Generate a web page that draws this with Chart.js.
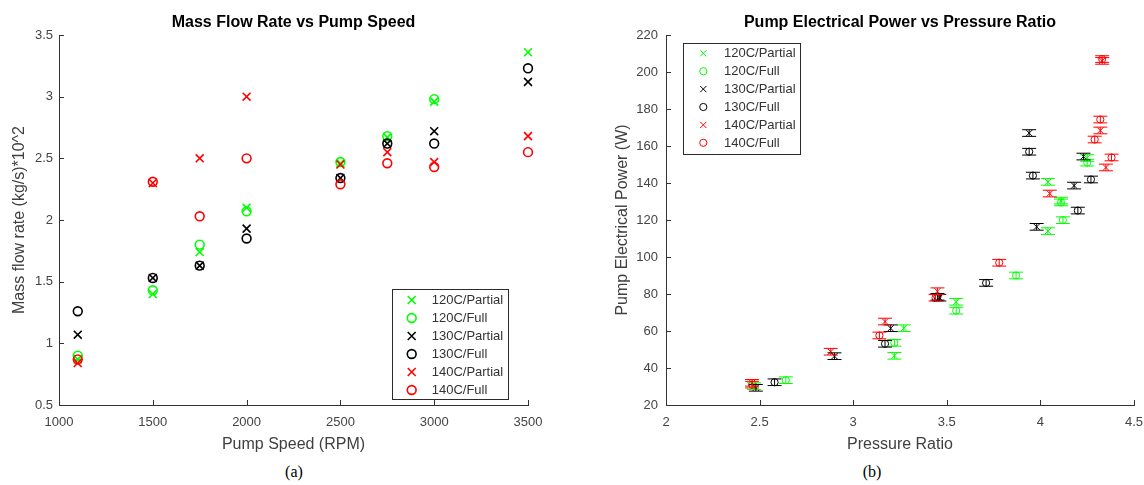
<!DOCTYPE html>
<html><head><meta charset="utf-8">
<script src="https://cdn.jsdelivr.net/npm/chart.js@4/dist/chart.umd.min.js"></script>
<style>
html,body{margin:0;padding:0;background:#fff;}
body{width:1144px;height:485px;position:relative;overflow:hidden;font-family:"Liberation Sans",Arial,sans-serif;}
#wl{position:absolute;left:0;top:0;width:580px;height:455px;}
#wr{position:absolute;left:580px;top:0;width:564px;height:455px;}
.cap{position:absolute;top:463px;line-height:18px;font-size:16px;font-family:"Liberation Serif","Times New Roman",serif;color:#000;transform:translateX(-50%);}
</style></head><body>
<div id="wl"><canvas id="cl" width="580" height="455"></canvas></div>
<div id="wr"><canvas id="cr" width="564" height="455"></canvas></div>
<div class="cap" style="left:294px">(a)</div>
<div class="cap" style="left:872px">(b)</div>
<script>
// ---------- DATA ----------
const seriesNames = ['120C/Partial','120C/Full','130C/Partial','130C/Full','140C/Partial','140C/Full'];
const seriesColors = ['#00ff00','#00ff00','#000000','#000000','#ff0000','#ff0000'];
const seriesMarkers = ['crossRot','circle','crossRot','circle','crossRot','circle'];

// (a) mass flow rate vs pump speed
const speedRPM = [1100,1500,1750,2000,2500,2750,3000,3500];
const flow120Partial = [0.87,1.40,1.74,2.10,2.46,2.67,2.96,3.36];
const flow120Full    = [0.90,1.43,1.80,2.07,2.47,2.68,2.98,null];
const flow130Partial = [1.07,1.53,1.63,1.93,2.34,2.62,2.72,3.12];
const flow130Full    = [1.26,1.53,1.63,1.85,2.34,2.62,2.62,3.23];
const flow140Partial = [0.84,2.30,2.50,3.00,2.45,2.55,2.47,2.68];
const flow140Full    = [0.87,2.31,2.03,2.50,2.29,2.46,2.43,2.55];
const speedTicks = [1000,1500,2000,2500,3000,3500];
const flowTicks = [0.5,1,1.5,2,2.5,3,3.5];

// (b) pump electrical power vs pressure ratio
const ratio120Partial = [2.47,3.22,3.27,3.55,4.04,4.11,4.04,4.25];
const power120Partial = [30.2,46.6,61.5,75.8,114.0,130.5,140.6,153.5];
const ratio120Full    = [2.64,3.22,3.55,3.87,4.12,4.11,4.25];
const power120Full    = [33.4,53.6,71.0,90.0,119.9,129.5,151.0];
const ratio130Partial = [2.48,2.90,3.20,3.46,3.98,4.18,4.23,3.94];
const power130Partial = [29.3,46.4,61.5,78.0,116.3,138.6,154.3,167.0];
const ratio130Full    = [2.58,3.17,3.45,3.71,4.20,4.27,3.96,3.94];
const power130Full    = [32.3,53.1,78.5,86.0,125.1,141.9,144.0,156.9];
const ratio140Partial = [2.46,2.88,3.17,3.45,4.05,4.35,4.32,4.33];
const power140Partial = [32.0,48.8,65.1,81.5,134.3,148.4,168.4,206.0];
const ratio140Full    = [2.46,3.14,3.44,3.78,4.38,4.29,4.32,4.33];
const power140Full    = [31.0,57.6,78.0,96.9,153.8,163.5,174.3,207.0];
const powerError = 1.8;
const ratioTicks = [2,2.5,3,3.5,4,4.5];
const powerTicks = [20,40,60,80,100,120,140,160,180,200,220];

// ---------- helpers ----------
const FONT = '"Liberation Sans", Arial, sans-serif';
function pairs(xs, ys){ const out=[]; xs.forEach((x,i)=>{ if(ys[i]!==null && ys[i]!==undefined) out.push({x:x,y:ys[i]}); }); return out; }

function drawMarker(ctx, style, x, y, r, color, lw){
  ctx.save();
  ctx.strokeStyle=color; ctx.lineWidth=lw; ctx.beginPath();
  if(style==='circle'){ ctx.arc(x,y,r,0,Math.PI*2); }
  else { const d=r*Math.SQRT1_2; ctx.moveTo(x-d,y-d); ctx.lineTo(x+d,y+d); ctx.moveTo(x+d,y-d); ctx.lineTo(x-d,y+d); }
  ctx.stroke(); ctx.restore();
}

const boxLegend = {
  id:'boxLegend',
  afterDraw(chart, args, o){
    const ctx=chart.ctx; ctx.save();
    ctx.fillStyle='#fff'; ctx.fillRect(o.x,o.y,o.w,o.h);
    ctx.strokeStyle='#2b2b2b'; ctx.lineWidth=1;
    ctx.strokeRect(Math.round(o.x)+0.5,Math.round(o.y)+0.5,Math.round(o.w),Math.round(o.h));
    ctx.font='13px '+FONT; ctx.textBaseline='middle'; ctx.textAlign='left';
    chart.data.datasets.forEach((ds,i)=>{
      const y=o.rowY0+i*o.rowStep;
      drawMarker(ctx, ds.pointStyle, o.markerX, y, ds.pointRadius, ds.borderColor, ds.borderWidth);
      ctx.fillStyle='#333'; ctx.fillText(ds.label, o.textX, y+0.5);
    });
    ctx.restore();
  }
};

const topTitle = {
  id:'topTitle',
  afterDraw(chart, args, o){
    const ctx=chart.ctx, a=chart.chartArea; ctx.save();
    ctx.font='bold 16px '+FONT; ctx.fillStyle='#000'; ctx.textAlign='center'; ctx.textBaseline='alphabetic';
    ctx.fillText(o.text,(a.left+a.right)/2,o.baseline); ctx.restore();
  }
};

const inTicks = {
  id:'inTicks',
  afterDraw(chart, args, o){
    const ctx=chart.ctx, a=chart.chartArea, xs=chart.scales.x, ys=chart.scales.y;
    ctx.save(); ctx.strokeStyle=o.color; ctx.lineWidth=1; ctx.beginPath();
    xs.ticks.forEach(t=>{ const px=Math.round(xs.getPixelForValue(t.value))+0.5; ctx.moveTo(px,a.bottom); ctx.lineTo(px,a.bottom-o.len); });
    ys.ticks.forEach(t=>{ const py=Math.round(ys.getPixelForValue(t.value))+0.5; ctx.moveTo(a.left,py); ctx.lineTo(a.left+o.len,py); });
    ctx.stroke(); ctx.restore();
  }
};

const errorBars = {
  id:'errorBars',
  afterDatasetsDraw(chart, args, o){
    if(!o || !o.enabled) return;
    const ctx=chart.ctx, xs=chart.scales.x, ys=chart.scales.y;
    ctx.save();
    chart.data.datasets.forEach(ds=>{
      ctx.strokeStyle=ds.borderColor; ctx.lineWidth=1; ctx.beginPath();
      ds.data.forEach(p=>{
        const px=xs.getPixelForValue(p.x);
        const top=ys.getPixelForValue(p.y+o.err), bot=ys.getPixelForValue(p.y-o.err);
        ctx.moveTo(px,top); ctx.lineTo(px,bot);
        ctx.moveTo(px-o.cap,top); ctx.lineTo(px+o.cap,top);
        ctx.moveTo(px-o.cap,bot); ctx.lineTo(px+o.cap,bot);
      });
      ctx.stroke();
    });
    ctx.restore();
  }
};

function makeDatasets(xsList, ysList, rX, rO, bw){
  return seriesNames.map((name,i)=>({
    label:name,
    data:pairs(xsList[i], ysList[i]),
    pointStyle:seriesMarkers[i],
    pointRadius: seriesMarkers[i]==='circle'? rO : rX,
    pointHoverRadius: seriesMarkers[i]==='circle'? rO : rX,
    borderColor:seriesColors[i],
    backgroundColor:'rgba(0,0,0,0)',
    pointBackgroundColor:'rgba(0,0,0,0)',
    borderWidth:bw,
    showLine:false,
    clip:false,
    order:5-i
  }));
}

function axis(opts){
  return {
    type:'linear', min:opts.min, max:opts.max,
    afterBuildTicks(s){ s.ticks = opts.ticks.map(v=>({value:v})); },
    afterFit(s){
      if(opts.width!==undefined) s.width=opts.width;
      if(opts.height!==undefined){ s.height=opts.height; s.paddingLeft=0; s.paddingRight=0; }
    },
    grid:{display:false, drawTicks:false},
    border:{display:true, color:'#333', width:1},
    ticks:{ color:'#444', padding:opts.pad, font:{size:13, family:FONT}, callback:(v)=>String(v), autoSkip:false, maxRotation:0 },
    title:{ display:true, text:opts.title, color:'#404040', font:{size:16, family:FONT}, padding:opts.titlePad }
  };
}

Chart.defaults.animation=false;

new Chart(document.getElementById('cl'),{
  type:'scatter',
  data:{ datasets: makeDatasets(
    [speedRPM,speedRPM,speedRPM,speedRPM,speedRPM,speedRPM],
    [flow120Partial,flow120Full,flow130Partial,flow130Full,flow140Partial,flow140Full], 5.6, 4.4, 1.6) },
  plugins:[errorBars, inTicks, boxLegend, topTitle],
  options:{
    responsive:false, devicePixelRatio:1, animation:false, events:[],
    layout:{padding:{left:0,right:52,top:35,bottom:0}},
    scales:{
      x: axis({min:1000,max:3500,ticks:speedTicks,height:50,pad:10,title:'Pump Speed (RPM)',titlePad:{top:0,bottom:1}}),
      y: axis({min:0.5,max:3.5,ticks:flowTicks,width:59,pad:6,title:'Mass flow rate (kg/s)*10^2',titlePad:{top:10,bottom:0}})
    },
    plugins:{
      legend:{display:false}, tooltip:{enabled:false},
      errorBars:{enabled:false},
      inTicks:{len:5,color:'#333'},
      boxLegend:{x:391.5,y:289,w:116,h:110,rowY0:300,rowStep:18,markerX:411.7,textX:431.7},
      topTitle:{text:'Mass Flow Rate vs Pump Speed',baseline:27}
    }
  }
});

new Chart(document.getElementById('cr'),{
  type:'scatter',
  data:{ datasets: makeDatasets(
    [ratio120Partial,ratio120Full,ratio130Partial,ratio130Full,ratio140Partial,ratio140Full],
    [power120Partial,power120Full,power130Partial,power130Full,power140Partial,power140Full], 4.4, 3.6, 1) },
  plugins:[errorBars, inTicks, boxLegend, topTitle],
  options:{
    responsive:false, devicePixelRatio:1, animation:false, events:[],
    layout:{padding:{left:0,right:10,top:35,bottom:0}},
    scales:{
      x: axis({min:2,max:4.5,ticks:ratioTicks,height:50,pad:10,title:'Pressure Ratio',titlePad:{top:0,bottom:1}}),
      y: axis({min:20,max:220,ticks:powerTicks,width:86,pad:8,title:'Pump Electrical Power (W)',titlePad:{top:33,bottom:0}})
    },
    plugins:{
      legend:{display:false}, tooltip:{enabled:false},
      errorBars:{enabled:true, err:powerError, cap:7},
      inTicks:{len:5,color:'#333'},
      boxLegend:{x:103.3,y:42.7,w:117.4,h:110.6,rowY0:53.3,rowStep:17.9,markerX:123.3,textX:144},
      topTitle:{text:'Pump Electrical Power vs Pressure Ratio',baseline:27}
    }
  }
});
</script>
</body></html>
